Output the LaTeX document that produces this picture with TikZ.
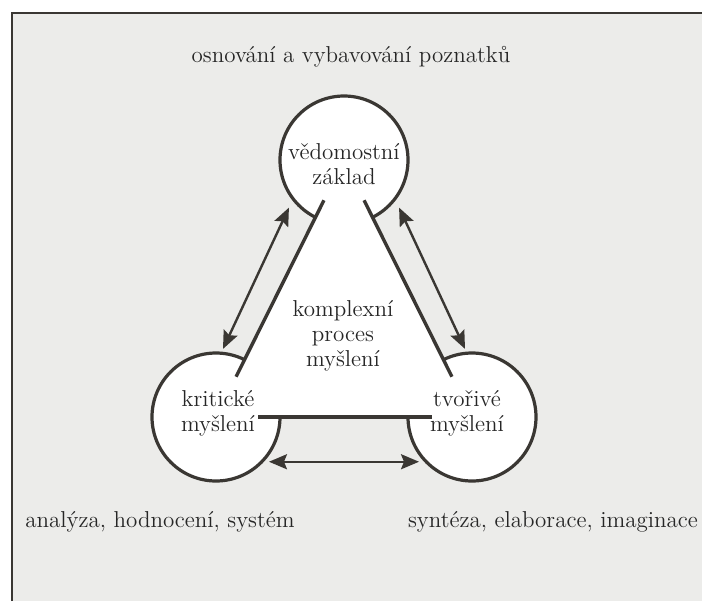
\documentclass[tikz,border=0pt]{standalone}
\usepackage{fontspec}
\usetikzlibrary{arrows.meta}
\definecolor{ink}{HTML}{3A3733}
\definecolor{paper}{HTML}{ECECEA}

\begin{document}
\begin{tikzpicture}[x=0.5pt, y=-0.5pt, font=\fontsize{11.5}{12.5}\selectfont]
  \tikzset{
    bubble/.style={circle, draw=ink, line width=1.6pt, fill=white, minimum size=64pt, inner sep=0pt},
    side/.style={draw=ink, line width=1.7pt},
    link/.style={draw=ink, line width=1.2pt, {Stealth[length=9pt,width=7.5pt,inset=1.5pt]}-{Stealth[length=9pt,width=7.5pt,inset=1.5pt]}},
    caption/.style={text=black!85, align=center, inner sep=0pt}
  }
  \useasboundingbox (0,0) rectangle (702,601);

  % paper and frame
  \fill[white] (0,0) rectangle (702,601);
  \fill[paper] (12,13) rectangle (702,601);
  \draw[ink, line width=1.3pt] (12,601) -- (12,13) -- (702,13);

  % the three circles
  \node[bubble] (base) at (344,160) {};
  \node[bubble] (crit) at (216,417) {};
  \node[bubble] (tvor) at (472,417) {};

  % white triangle between the centres
  \fill[white] (base.center) -- (crit.center) -- (tvor.center) -- cycle;
  \draw[side, shorten <=22.5pt, shorten >=22.5pt] (base.center) -- (crit.center);
  \draw[side, shorten <=22.5pt, shorten >=22.5pt] (base.center) -- (tvor.center);
  \draw[side, shorten <=21pt, shorten >=20pt] (crit.center) -- (tvor.center);

  % two-way arrows
  \draw[link, shorten <=1.5pt, shorten >=4pt] (crit.85) -- (base.218);
  \draw[link, shorten <=1.5pt, shorten >=4pt] (tvor.95) -- (base.322);
  \draw[link, shorten <=2.5pt, shorten >=2.5pt] (crit.317) -- (tvor.223);

  % labels
  \node[caption] (baselbl) at (344,164) {vědomostní\\základ};
  \node[caption] (proclbl) at (343,336) {komplexní\\proces\\myšlení};
  \node[caption] (critlbl) at (218,413) {kritické\\myšlení};
  \node[caption] (tvorlbl) at (467,413) {tvořivé\\myšlení};

  \node[caption] (toplbl) at (351,57) {osnování a vybavování poznatků};
  \node[caption] (leftlbl) at (160,522) {analýza, hodnocení, systém};
  \node[caption] (rightlbl) at (553,522) {syntéza, elaborace, imaginace};
\end{tikzpicture}
\end{document}
